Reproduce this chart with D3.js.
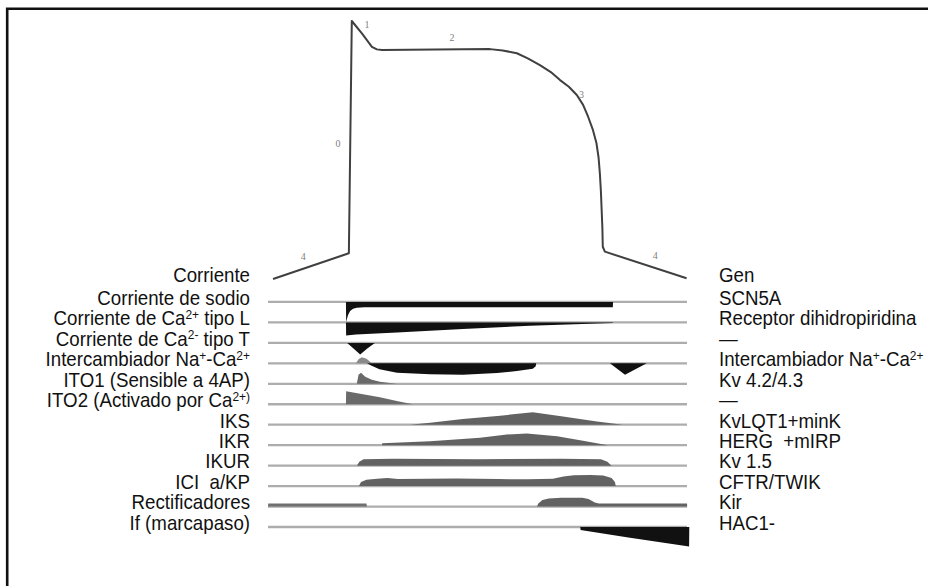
<!DOCTYPE html>
<html><head><meta charset="utf-8">
<script src="https://cdn.jsdelivr.net/npm/d3@7/dist/d3.min.js"></script>
<style>body{margin:0;background:#fff}svg{display:block}</style>
</head><body>
<svg id="chart" width="928" height="586"></svg>
<script>
// ---------- DATA ----------
const leftLabels = ["Corriente","Corriente de sodio","Corriente de Ca^{2+} tipo L","Corriente de Ca^{2-} tipo T",
  "Intercambiador Na^{+}-Ca^{2+}","ITO1 (Sensible a 4AP)","ITO2 (Activado por Ca^{2+)}","IKS","IKR","IKUR",
  "ICI  a/KP","Rectificadores","If (marcapaso)"];
const rightLabels = ["Gen","SCN5A","Receptor dihidropiridina","—","Intercambiador Na^{+}-Ca^{2+}","Kv 4.2/4.3","—",
  "KvLQT1+minK","HERG  +mIRP","Kv 1.5","CFTR/TWIK","Kir","HAC1-"];

// action potential [time, voltage (arbitrary 0-100)]
const apPoints = [[1.2,0],[19.3,10],[20,100],[22.5,95],[24.8,90],[26,89],[27.2,88.8],[40,89],[53,89.1],
  [56,88.6],[59.4,87.5],[62,85.5],[64.9,82.9],[67.5,80.2],[69.7,77.1],[71.8,74.5],[73.7,71.3],[75.2,67.5],
  [76.4,62.9],[77.5,58],[78.4,52.6],[78.9,47],[79.2,41],[79.45,34],[79.6,28],[79.8,20],[79.9,12.5],
  [80.4,10.6],[99.9,0.3]];
const phaseLabels = [["0",16.7,51.9],["1",23.6,98.2],["2",43.9,93],["3",74.8,71],["4",8.4,8.1],["4",92.4,8.5]];

// currents [time, amplitude] (+ outward / - inward)
const sodium   = [[18.6,0],[18.65,-20],[19.1,-13],[19.6,-9],[20.3,-6.8],[21.2,-5.7],[23,-5.2],[82.3,-5.2],[82.35,0]];
const calciumL = [[18.6,0],[18.65,-13],[21,-12.2],[30.8,-10],[46.5,-6.7],[62.5,-3.3],[75,-1.5],[82.3,-0.6],[82.35,0]];
const calciumT = [[18.9,0],[20.4,-5.5],[22,-11.5],[23.7,-5.5],[25.5,0]];
const ncxOut   = [[21,0],[21.6,4],[22.4,6],[23.5,4.5],[24.8,0]];
const ncxIn    = [[23.6,0],[24.5,-2],[26.6,-6],[30.8,-9.3],[38.7,-11],[46.5,-11.3],[54.7,-9.7],[59.4,-7.7],[63.2,-5.3],[63.9,-3],[64,0]];
const ncxLate  = [[81.6,0],[85.2,-11.5],[90.4,0]];
const ito1     = [[21.2,0],[21.6,9],[22.2,11],[23.2,7],[24.8,4],[26.7,2],[29.1,0.8],[30.8,0]];
const ito2     = [[18.6,0],[18.65,13],[22,10.5],[26.7,7],[31,3],[34.6,0]];
const iks      = [[33.9,0],[38.7,2],[46.5,5.7],[55.4,9],[63.2,12.5],[70.4,8.3],[78.5,3.3],[84.7,0]];
const ikr      = [[27.2,0],[27.25,2],[38.7,4],[50.6,7.3],[57,10.7],[61.8,11.7],[69,9],[74.5,5],[81.1,0]];
const ikur     = [[21.2,0],[21.8,4],[22.8,6.5],[30,6.8],[50,6.5],[70,6.8],[79.5,6.5],[81,4],[82,0]];
const iclkp    = [[21.7,0],[22.2,4],[23.5,6.3],[26,7.3],[28.5,8],[31,7],[38,7.3],[45,7.6],[55,7],[62,6.8],[68,7.3],
  [70.5,9.5],[73,10.8],[77,11],[80,10.5],[82,8],[82.8,4],[83,0]];
const rectLeft = [[0,0],[0.05,3],[23.5,3],[23.6,0]];
const rectHump = [[64.2,0],[64.5,3],[65.5,6.5],[67,8],[70,8.7],[75,8.7],[76.5,7.5],[78,4],[79,3],[100,3],[100.05,0]];
const ifCurr   = [[74.5,1.5],[74.6,-3],[86,-10.5],[100.5,-19.5],[100.55,1.5]];

// ---------- SCALES ----------
const svg = d3.select("#chart");
const x = d3.scaleLinear().domain([0,100]).range([268,687]);
const v = d3.scaleLinear().domain([0,100]).range([279,21]);
const rowY = d3.scalePoint().domain(d3.range(13)).range([281.5,527]);
const amp = d3.scaleLinear().domain([-20,20]).range([20,-20]);

// frame
svg.append("path").attr("d","M7.2,590V8.7H935").attr("fill","none").attr("stroke","#111").attr("stroke-width",2.6);

// baselines
svg.append("g").selectAll("line").data(d3.range(1,13)).join("line")
  .attr("x1",x(0)).attr("x2",x(100)).attr("y1",d=>rowY(d)).attr("y2",d=>rowY(d))
  .attr("stroke","#adadad").attr("stroke-width",2.3);

// currents
const currentTable = [
  {row:1,data:sodium,color:"#111"},{row:2,data:calciumL,color:"#111"},{row:3,data:calciumT,color:"#111"},
  {row:4,data:ncxOut,color:"#8a8a8a"},{row:4,data:ncxIn,color:"#111"},{row:4,data:ncxLate,color:"#111"},
  {row:5,data:ito1,color:"#6a6a6a"},{row:6,data:ito2,color:"#6a6a6a"},{row:7,data:iks,color:"#626262"},
  {row:8,data:ikr,color:"#626262"},{row:9,data:ikur,color:"#626262"},{row:10,data:iclkp,color:"#626262"},
  {row:11,data:rectLeft,color:"#707070"},{row:11,data:rectHump,color:"#626262"},{row:12,data:ifCurr,color:"#111"}
];
currentTable.forEach(c=>{
  const base = rowY(c.row);
  const area = d3.area().x(d=>x(d[0])).y0(base+amp(0)).y1(d=>base+amp(d[1]));
  svg.append("path").attr("d",area(c.data)).attr("fill",c.color);
});

// action potential
const apLine = d3.line().x(d=>x(d[0])).y(d=>v(d[1]));
svg.append("path").attr("d",apLine(apPoints)).attr("fill","none").attr("stroke","#404040")
  .attr("stroke-width",2).attr("stroke-linejoin","round");
svg.append("g").selectAll("text").data(phaseLabels).join("text")
  .attr("x",d=>x(d[1])).attr("y",d=>v(d[2])).attr("text-anchor","middle").attr("dominant-baseline","middle")
  .attr("font-family","Liberation Serif").attr("font-size",10).attr("fill","#808080").text(d=>d[0]);

// labels
function addLabel(g, str){
  const parts = str.split(/\^\{([^}]*)\}/);
  let raised = false;
  parts.forEach((p,i)=>{
    const sup = i%2===1;
    if(p==="" && !sup) return;
    const t = g.append("tspan").text(p);
    if(sup){ t.attr("font-size","0.64em").attr("dy",-6); raised=true; }
    else if(raised){ t.attr("dy",6); raised=false; }
  });
}
const fontSize = 18.7;
function labelGroup(labels, xpos, anchor){
  labels.forEach((s,i)=>{
    const yy = rowY(i) + (i===0 ? 0.5 : 2.8);
    const t = svg.append("text").attr("transform",`translate(${xpos},${yy}) scale(1,1.04)`)
      .attr("text-anchor",anchor).attr("font-family","Liberation Sans, Arial, sans-serif")
      .attr("font-size",fontSize).attr("fill","#111").style("white-space","pre");
    addLabel(t,s);
  });
}
labelGroup(leftLabels,250,"end");
labelGroup(rightLabels,719,"start");
</script>
</body></html>
